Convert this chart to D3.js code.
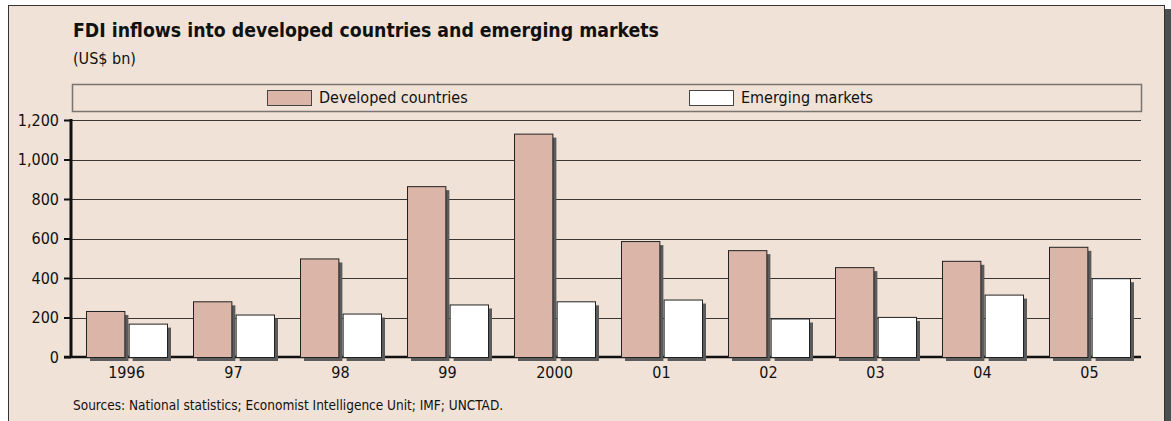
<!DOCTYPE html>
<html>
<head>
<meta charset="utf-8">
<script src="https://cdn.jsdelivr.net/npm/d3@7"></script>
<style>
  body { margin: 0; background: #ffffff; }
  svg text { font-family: "DejaVu Sans Condensed", "DejaVu Sans", sans-serif; fill: #111; }
</style>
</head>
<body>
<div id="chart"></div>
<script>

//// DATA

// Years on the x axis
var years = ["1996", "97", "98", "99", "2000", "01", "02", "03", "04", "05"];
// FDI inflows, US$ bn
var developed = [233, 282, 499, 865, 1131, 587, 541, 455, 487, 558];
var emerging = [169, 215, 220, 266, 282, 291, 195, 203, 316, 399];
// Series names for the legend
var seriesNames = ["Developed countries", "Emerging markets"];
var seriesColors = ["#dbb6a8", "#ffffff"];
// Y axis ticks
var yTicks = [0, 200, 400, 600, 800, 1000, 1200];


//// MAIN

var W = 1171, H = 421;
var bg = "#f0e2d6";

var svg = d3.select("#chart").append("svg")
    .attr("width", W)
    .attr("height", H);

// Frame with dark shadow on the right
svg.append("rect")
    .attr("x", 1164).attr("y", 9)
    .attr("width", 7).attr("height", H)
    .attr("fill", "#4b4f4f");
svg.append("rect")
    .attr("x", 8.5).attr("y", 5.5)
    .attr("width", 1156).attr("height", H)
    .attr("fill", bg)
    .attr("stroke", "#333")
    .attr("stroke-width", 1);

// Title and subtitle
svg.append("text")
    .attr("x", 73).attr("y", 37)
    .style("font-size", "19.3px")
    .style("font-weight", "bold")
    .text("FDI inflows into developed countries and emerging markets");
svg.append("text")
    .attr("x", 73).attr("y", 64)
    .style("font-size", "16px")
    .text("(US$ bn)");

// Plot area
var plotLeft = 71, plotRight = 1141, plotTop = 120, plotBottom = 357;

var x = d3.scaleBand()
    .domain(years)
    .range([plotLeft, plotRight])
    .padding(0);

// Bars inside one year group
var xs = d3.scaleBand()
    .domain([0, 1])
    .range([15, 96])
    .paddingInner(0.1);

var y = d3.scaleLinear()
    .domain([0, 1200])
    .range([plotBottom, plotTop]);

// Legend box
svg.append("rect")
    .attr("x", 72.5).attr("y", 84.5)
    .attr("width", plotRight - 72).attr("height", 27)
    .attr("fill", "none")
    .attr("stroke", "#7a7570")
    .attr("stroke-width", 1.5);

var legendX = [267, 689];
var legend = svg.selectAll(".legend")
    .data(seriesNames)
    .enter().append("g")
    .attr("class", "legend")
    .attr("transform", function(d, i) { return "translate(" + legendX[i] + ",90)"; });
legend.append("rect")
    .attr("x", 0.5).attr("y", 0.5)
    .attr("width", 44).attr("height", 15)
    .attr("fill", function(d, i) { return seriesColors[i]; })
    .attr("stroke", "#444");
legend.append("text")
    .attr("x", 52).attr("y", 13)
    .style("font-size", "16px")
    .text(function(d) { return d; });

// Gridlines
svg.append("g")
    .selectAll("line")
    .data(yTicks.slice(1))
    .enter().append("line")
    .attr("x1", plotLeft).attr("x2", plotRight)
    .attr("y1", function(d) { return Math.round(y(d)) + 0.5; })
    .attr("y2", function(d) { return Math.round(y(d)) + 0.5; })
    .attr("stroke", "#3a3632")
    .attr("stroke-width", 1.2);

// Y axis
var yAxis = svg.append("g")
    .attr("transform", "translate(" + plotLeft + ",0)")
    .call(d3.axisLeft(y).tickValues(yTicks).tickSize(7).tickPadding(5)
        .tickFormat(d3.format(",")));
yAxis.select(".domain").remove();
yAxis.selectAll(".tick line").attr("stroke", "#111").attr("stroke-width", 2);
yAxis.selectAll("text").style("font-size", "16px");
svg.append("line")
    .attr("x1", plotLeft).attr("x2", plotLeft)
    .attr("y1", plotTop - 1).attr("y2", plotBottom + 1)
    .attr("stroke", "#111").attr("stroke-width", 3);

// X axis line
svg.append("line")
    .attr("x1", plotLeft - 7).attr("x2", plotRight)
    .attr("y1", plotBottom).attr("y2", plotBottom)
    .attr("stroke", "#111").attr("stroke-width", 2.5);

// Bars
var rows = years.map(function(d, i) { return { year: d, vals: [developed[i], emerging[i]] }; });

var groups = svg.selectAll(".grp")
    .data(rows)
    .enter().append("g")
    .attr("class", "grp")
    .attr("transform", function(d) { return "translate(" + x(d.year) + ",0)"; });

var bars = groups.selectAll(".bar")
    .data(function(d) { return d.vals.map(function(v, k) { return { k: k, v: v }; }); })
    .enter();

// shadows
bars.append("rect")
    .attr("x", function(d) { return xs(d.k) + 4; })
    .attr("y", function(d) { return y(d.v) + 4; })
    .attr("width", xs.bandwidth())
    .attr("height", function(d) { return plotBottom - y(d.v); })
    .attr("fill", "#5b5b5b");

bars.append("rect")
    .attr("x", function(d) { return xs(d.k) + 0.5; })
    .attr("y", function(d) { return y(d.v) + 0.5; })
    .attr("width", xs.bandwidth())
    .attr("height", function(d) { return plotBottom - y(d.v); })
    .attr("fill", function(d) { return seriesColors[d.k]; })
    .attr("stroke", "#222")
    .attr("stroke-width", 1);

// X axis labels, centred under each year group
var xAxis = svg.append("g")
    .attr("transform", "translate(2," + (plotBottom + 4) + ")")
    .call(d3.axisBottom(x).tickSize(0).tickPadding(6));
xAxis.select(".domain").remove();
xAxis.selectAll("text").style("font-size", "16px");

// Source note
svg.append("text")
    .attr("x", 73).attr("y", 410)
    .style("font-size", "13.5px")
    .text("Sources: National statistics; Economist Intelligence Unit; IMF; UNCTAD.");

</script>
</body>
</html>
